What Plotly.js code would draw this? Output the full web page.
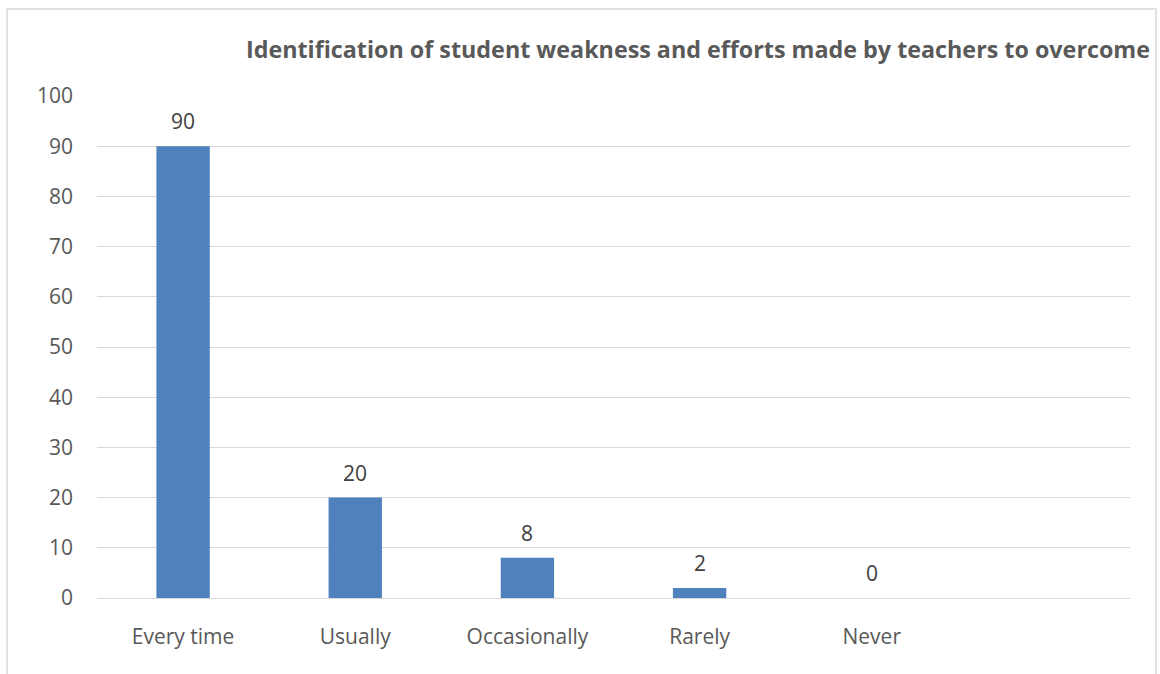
<!DOCTYPE html>
<html>
<head>
<meta charset="utf-8">
<script src="https://cdn.plot.ly/plotly-3.0.1.min.js"></script>
<style>
html,body{margin:0;padding:0;background:#fff;}
#chart{width:1160px;height:674px;}
</style>
</head>
<body>
<div id="chart"></div>
<script>
const categories = ["Every time", "Usually", "Occasionally", "Rarely", "Never"];
const values = [90, 20, 8, 2, 0];
const yTicks = [0, 10, 20, 30, 40, 50, 60, 70, 80, 90, 100];
const chartTitle = "Identification of student weakness and efforts made by teachers to overcome";

const FONT = "'Open Sans', sans-serif";

const trace = {
  type: "bar",
  x: categories,
  y: values,
  marker: {color: "#4f81bd"},
  hoverinfo: "x+y",
  cliponaxis: false
};

const annotations = categories.map((c, i) => ({
  x: c, y: values[i], xref: "x", yref: "y",
  text: String(values[i]),
  showarrow: false,
  yanchor: "middle",
  yshift: 25,
  font: {family: FONT, size: 21, color: "#404040"}
}));

const layout = {
  width: 1160, height: 674,
  margin: {l: 97, r: 30, t: 96, b: 76},
  paper_bgcolor: "#ffffff",
  plot_bgcolor: "#ffffff",
  showlegend: false,
  bargap: 0.69,
  title: {
    text: "<b>" + chartTitle + "</b>",
    xref: "container", x: 1150 / 1160, xanchor: "right",
    yref: "container", y: 1 - 50 / 674, yanchor: "middle",
    font: {family: FONT, size: 23.3, color: "#595959"}
  },
  xaxis: {
    type: "category",
    range: [-0.5, 5.5],
    showgrid: false,
    showline: true,
    linecolor: "#d9d9d9",
    linewidth: 1,
    ticks: "",
    ticklabelstandoff: 20,
    tickfont: {family: FONT, size: 21, color: "#595959"},
    fixedrange: true
  },
  yaxis: {
    range: [0, 100],
    tickvals: yTicks,
    showgrid: true,
    gridcolor: "#d9d9d9",
    gridwidth: 1,
    zeroline: false,
    showline: false,
    ticks: "",
    ticklabelstandoff: 23,
    tickfont: {family: FONT, size: 21, color: "#595959"},
    fixedrange: true
  },
  annotations: annotations,
  shapes: [{
    type: "rect", xref: "paper", yref: "paper",
    x0: (7 - 97) / 1033, x1: (1156 - 97) / 1033,
    y0: -0.3, y1: (598 - 9) / 502,
    line: {color: "#d9d9d9", width: 1.5},
    fillcolor: "rgba(0,0,0,0)",
    layer: "below"
  }]
};

Plotly.newPlot("chart", [trace], layout, {displayModeBar: false, staticPlot: true});
</script>
</body>
</html>
